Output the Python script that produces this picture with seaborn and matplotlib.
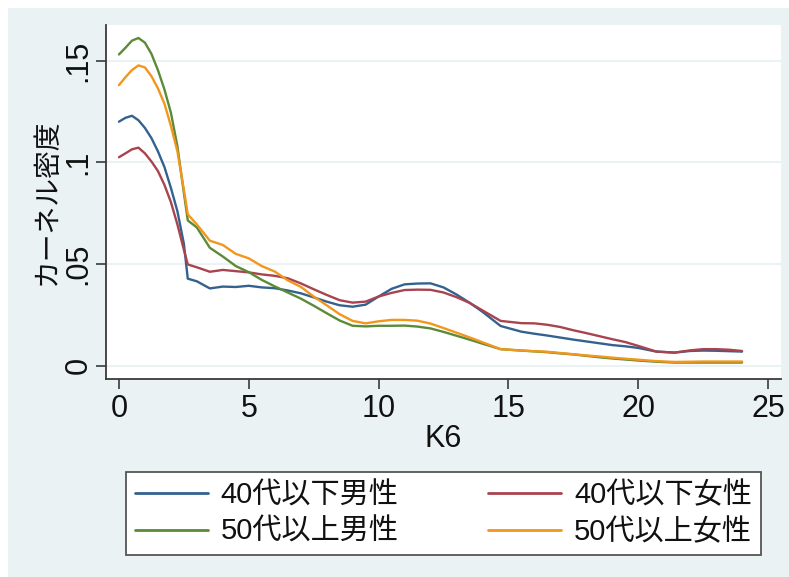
import numpy as np
import pandas as pd
import matplotlib
matplotlib.use("Agg")
import matplotlib.pyplot as plt
from matplotlib.patches import Rectangle
from matplotlib.lines import Line2D
import seaborn as sns

# K6 evaluation grid of the kernel density estimates
k6 = [0, 0.25, 0.5, 0.75, 1.0, 1.25, 1.5, 1.75, 2.0, 2.25, 2.5, 2.65,
      3.0, 3.5, 4.0, 4.5, 5.0, 5.5, 6.0, 6.5, 7.0, 7.5, 8.0, 8.5, 9.0,
      9.5, 10.0, 10.5, 11.0, 11.5, 12.0, 12.5, 13.0, 13.5, 14.0, 14.7,
      15.5, 16.0, 16.5, 17.0, 17.5, 18.0, 18.5, 19.0, 19.5, 20.0, 20.7,
      21.4, 22.0, 22.5, 23.0, 23.5, 24.0]

# density values per group
male_u40 = [0.1201, 0.1220, 0.1230, 0.1208, 0.1170, 0.1120, 0.1055, 0.0978,
            0.0875, 0.0760, 0.0600, 0.0428, 0.0415, 0.0380, 0.0389, 0.0387,
            0.0393, 0.0385, 0.0381, 0.0370, 0.0356, 0.0336, 0.0315, 0.0297,
            0.0290, 0.0300, 0.0340, 0.0378, 0.0400, 0.0404, 0.0405, 0.0385,
            0.0350, 0.0310, 0.0265, 0.0195, 0.0167, 0.0157, 0.0148, 0.0138,
            0.0128, 0.0119, 0.0110, 0.0101, 0.0095, 0.0087, 0.0069, 0.0064,
            0.0072, 0.0074, 0.0073, 0.0071, 0.0069]
female_u40 = [0.1026, 0.1045, 0.1065, 0.1073, 0.1045, 0.1005, 0.0958, 0.0890,
              0.0805, 0.0695, 0.0570, 0.0498, 0.0484, 0.0462, 0.0471, 0.0465,
              0.0459, 0.0449, 0.0442, 0.0430, 0.0405, 0.0376, 0.0348, 0.0322,
              0.0310, 0.0315, 0.0340, 0.0358, 0.0372, 0.0374, 0.0373, 0.0360,
              0.0337, 0.0309, 0.0272, 0.0220, 0.0209, 0.0208, 0.0201, 0.0190,
              0.0174, 0.0160, 0.0145, 0.0130, 0.0116, 0.0097, 0.0069, 0.0064,
              0.0075, 0.0081, 0.0081, 0.0078, 0.0072]
male_o50 = [0.1532, 0.1565, 0.1600, 0.1613, 0.1590, 0.1535, 0.1455, 0.1360,
            0.1245, 0.1080, 0.0850, 0.0715, 0.0680, 0.0580, 0.0537, 0.0490,
            0.0460, 0.0422, 0.0390, 0.0360, 0.0330, 0.0295, 0.0258, 0.0222,
            0.0196, 0.0193, 0.0196, 0.0196, 0.0197, 0.0192, 0.0183, 0.0166,
            0.0147, 0.0128, 0.0108, 0.0081, 0.0074, 0.0070, 0.0066, 0.0060,
            0.0055, 0.0048, 0.0041, 0.0035, 0.0030, 0.0025, 0.0019, 0.0015,
            0.0015, 0.0015, 0.0015, 0.0015, 0.0015]
female_o50 = [0.1381, 0.1420, 0.1455, 0.1478, 0.1468, 0.1425, 0.1365, 0.1290,
              0.1180, 0.1055, 0.0865, 0.0745, 0.0695, 0.0615, 0.0594, 0.0550,
              0.0528, 0.0490, 0.0463, 0.0420, 0.0388, 0.0340, 0.0297, 0.0253,
              0.0220, 0.0208, 0.0218, 0.0225, 0.0225, 0.0221, 0.0207, 0.0185,
              0.0162, 0.0139, 0.0115, 0.0081, 0.0074, 0.0071, 0.0068, 0.0062,
              0.0056, 0.0050, 0.0045, 0.0039, 0.0034, 0.0029, 0.0022, 0.0018,
              0.0019, 0.0020, 0.0020, 0.0020, 0.0020]

groups = ["40代以下男性", "40代以下女性", "50代以上男性", "50代以上女性"]
colors = ["#33628f", "#a8434f", "#5b8a38", "#f2961c"]

x_ticks = [0, 5, 10, 15, 20, 25]
y_ticks = [0, 0.05, 0.10, 0.15]
y_tick_labels = ["0", ".05", ".1", ".15"]

series = [male_u40, female_u40, male_o50, female_o50]
df = pd.concat(
    [pd.DataFrame({"K6": k6, "density": vals, "group": g}) for g, vals in zip(groups, series)],
    ignore_index=True,
)

sns.set_theme(style="white")
plt.rcParams["font.family"] = ["Liberation Sans", "Noto Sans CJK JP"]

bg = "#eaf2f3"
fig = plt.figure(figsize=(7.89, 5.77), dpi=100, facecolor="white")
# tinted graph region, leaving a thin white margin at top and left
fig.patches.append(Rectangle((8 / 789, 0), 1, 1 - 8 / 577, transform=fig.transFigure,
                             facecolor=bg, edgecolor="none", zorder=-5))

ax = fig.add_axes([106 / 789, 1 - 379 / 577, 675 / 789, 354 / 577])
ax.set_zorder(1)
ax.set_facecolor("white")

sns.lineplot(data=df, x="K6", y="density", hue="group", hue_order=groups,
             palette=dict(zip(groups, colors)), linewidth=1.7, legend=False,
             sort=False, estimator=None, ax=ax)

ax.set_xlim(-0.5, 25.5)
ax.set_ylim(-0.0066, 0.1677)
ax.set_xticks(x_ticks)
ax.set_yticks(y_ticks)
ax.set_yticklabels(y_tick_labels, rotation=90, va="center")
ax.yaxis.grid(True, color=bg, linewidth=1.5)
ax.xaxis.grid(False)
ax.set_axisbelow(True)

for side in ["top", "right"]:
    ax.spines[side].set_visible(False)
for side in ["left", "bottom"]:
    ax.spines[side].set_color("#3a3a3a")
    ax.spines[side].set_linewidth(1.3)

ax.tick_params(axis="both", direction="out", length=7, width=1.2, color="#3a3a3a",
               labelsize=22, labelcolor="#111111")
ax.tick_params(axis="x", bottom=True, pad=4)
ax.tick_params(axis="y", left=True, pad=2)

ax.set_xlabel("K6", fontsize=22, color="#111111", labelpad=0)
ax.set_ylabel("カーネル密度", fontsize=20, color="#111111", labelpad=2)

handles = [Line2D([], [], color=c, linewidth=2) for c in colors]
order = [0, 2, 1, 3]
leg = fig.legend([handles[i] for i in order], [groups[i] for i in order],
                 ncol=2, loc="center",
                 bbox_to_anchor=(126 / 789, 1 - 558 / 577, 635 / 789, 89 / 577),
                 mode="expand", fontsize=21, handlelength=2.5, handletextpad=0.45,
                 columnspacing=1.0, labelspacing=0.3, borderpad=0.3,
                 borderaxespad=0.0, frameon=True, fancybox=False, framealpha=1.0)
leg.get_frame().set_edgecolor("#555555")
leg.get_frame().set_linewidth(1.3)
leg.get_frame().set_facecolor("white")
for t in leg.get_texts():
    t.set_color("#111111")

fig.savefig("out.png", dpi=100, facecolor="white")
